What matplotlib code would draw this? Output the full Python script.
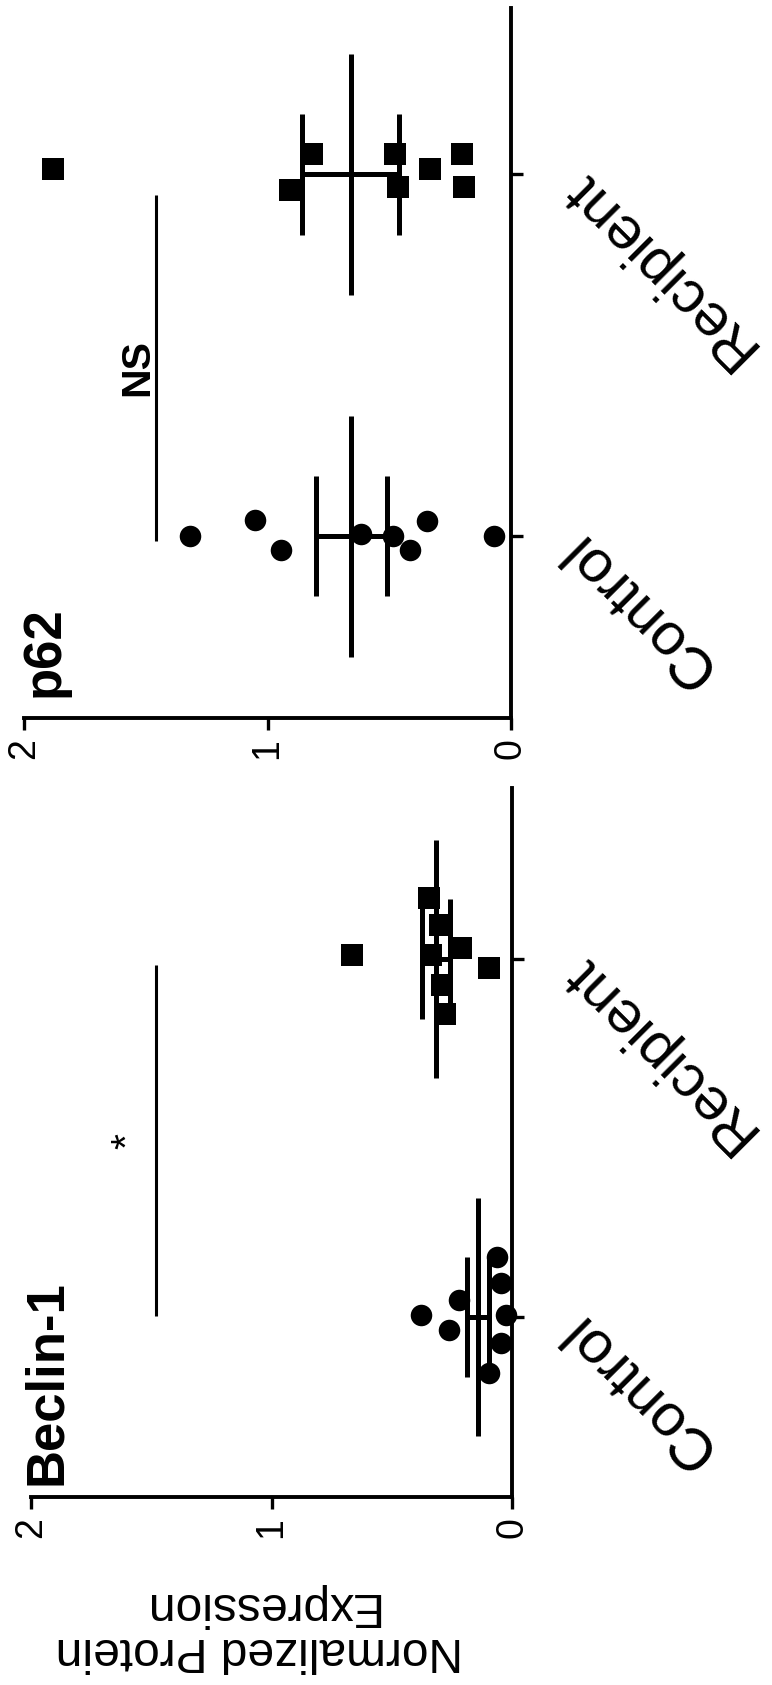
import numpy as np
import matplotlib
matplotlib.use("Agg")
import matplotlib.pyplot as plt
from matplotlib.transforms import blended_transform_factory

plt.rcParams["font.family"] = ["Liberation Sans", "DejaVu Sans"]

# ---- data -------------------------------------------------------------
categories = ["Control", "Recipient"]
value_ticks = [0, 1, 2]

beclin_control = [0.380, 0.262, 0.220, 0.061, 0.047, 0.026, 0.047, 0.096]
beclin_recipient = [0.664, 0.213, 0.096, 0.345, 0.300, 0.335, 0.290, 0.277]

p62_control = [1.317, 1.050, 0.945, 0.616, 0.485, 0.414, 0.343, 0.071]
p62_recipient = [1.879, 0.909, 0.818, 0.475, 0.465, 0.333, 0.202, 0.192]

beclin_sig = "*"
p62_sig = "NS"

# ---- layout / style ---------------------------------------------------
# The figure is laid out turned a quarter turn: the value axis runs
# horizontally (0 on the right) and the groups are stacked vertically.
W, H = 772, 1685
fig = plt.figure(figsize=(W / 100, H / 100), dpi=100)
fig.patch.set_facecolor("white")

ax_p62 = fig.add_axes([24 / W, (H - 718) / H, (511 - 24) / W, 710 / H])
ax_bec = fig.add_axes([31 / W, (H - 1497) / H, (512 - 31) / W, 709 / H])

markers = ["o", "s"]
marker_size = 15.5
mean_half = 0.333
cap_half = 0.167
bar_lw = 3.6

# horizontal spread of overlapping points within each group
spread = {
    ("p62", 0): [0.0, 0.045, -0.039, 0.007, 0.0, -0.039, 0.042, 0.0],
    ("p62", 1): [0.014, -0.042, 0.056, 0.056, -0.035, 0.014, 0.056, -0.035],
    ("bec", 0): [0.006, -0.036, 0.047, 0.168, 0.094, 0.006, -0.073, -0.157],
    ("bec", 1): [0.011, 0.031, -0.025, 0.170, 0.095, 0.011, -0.073, -0.154],
}


def draw_panel(ax, key, groups, title, title_pos, ylim, sig, sig_pos,
               bracket_x, bracket_span, sig_weight, sig_size):
    ax.set_xlim(2, 0)
    ax.set_ylim(*ylim)
    for sp in ("top", "left"):
        ax.spines[sp].set_visible(False)
    for sp in ("bottom", "right"):
        ax.spines[sp].set_linewidth(2.8)
        ax.spines[sp].set_capstyle("projecting")

    ax.set_xticks(value_ticks)
    ax.set_xticklabels([str(v) for v in value_ticks], rotation=90,
                       fontsize=27, va="top", ha="center")
    ax.tick_params(axis="x", length=8.6, width=2.4, pad=5.8)

    ax.yaxis.tick_right()
    ax.set_yticks(range(len(categories)))
    ax.set_yticklabels([])
    ax.tick_params(axis="y", length=8.6, width=2.4)

    for i, vals in enumerate(groups):
        vals = np.asarray(vals, dtype=float)
        pos = i + np.asarray(spread[(key, i)])
        ax.plot(vals, pos, linestyle="none", marker=markers[i],
                markersize=marker_size, color="black", markeredgewidth=0,
                zorder=3, clip_on=False)
        m = vals.mean()
        s = vals.std(ddof=1) / np.sqrt(len(vals))
        kw = dict(color="black", lw=bar_lw, solid_capstyle="butt", zorder=4)
        ax.plot([m, m], [i - mean_half, i + mean_half], **kw)
        ax.plot([m - s, m - s], [i - cap_half, i + cap_half], **kw)
        ax.plot([m + s, m + s], [i - cap_half, i + cap_half], **kw)
        ax.plot([m - s, m + s], [i, i], **kw)

        ax.text(-0.24, i - 0.015, categories[i], rotation=135,
                rotation_mode="anchor", ha="right", va="center",
                fontsize=43, clip_on=False)

    ax.text(title_pos[0], title_pos[1], title, rotation=90,
            rotation_mode="anchor", ha="left", va="baseline",
            fontsize=38, fontweight="bold")

    ax.plot([bracket_x, bracket_x], bracket_span, color="black", lw=2.2,
            solid_capstyle="butt")
    ax.text(sig_pos[0], sig_pos[1], sig, rotation=90, rotation_mode="anchor",
            ha="center", va="baseline", fontsize=sig_size,
            fontweight=sig_weight)


draw_panel(ax_p62, "p62", [p62_control, p62_recipient], "p62",
           (1.86, -0.445), (-0.503, 1.46), p62_sig, (1.49, 0.465),
           1.459, [-0.014, 0.944], "bold", 29.5)
draw_panel(ax_bec, "bec", [beclin_control, beclin_recipient], "Beclin-1",
           (1.875, -0.47), (-0.503, 1.478), beclin_sig, (1.55, 0.493),
           1.481, [0.003, 0.984], "normal", 29.5)

# value-axis title, shared by both panels, under the lower panel
tr = blended_transform_factory(ax_bec.transData, fig.transFigure)
ax_bec.text(1.05, (H - 1628) / H, "Normalized Protein\nExpression",
            transform=tr, rotation=180, ha="center", va="center",
            multialignment="center", fontsize=34.5, linespacing=1.0)

fig.savefig("out.png", dpi=100, facecolor="white")
